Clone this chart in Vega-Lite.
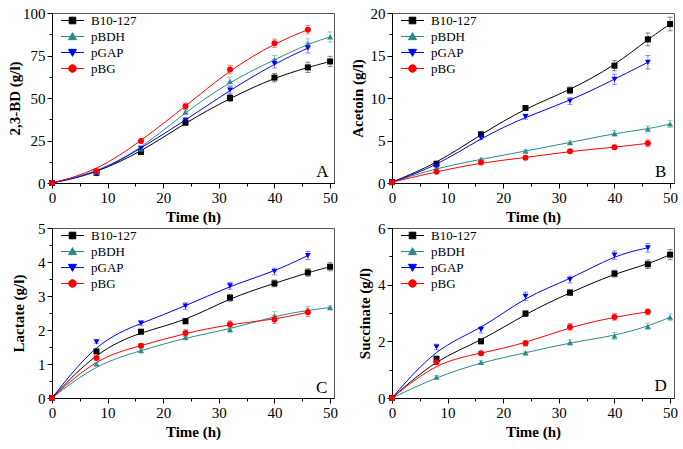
{
  "$schema": "https://vega.github.io/schema/vega-lite/v6.json",
  "background": "white",
  "padding": {"left": 7, "top": 5, "right": 0, "bottom": 0},
  "config": {
    "font": "Liberation Serif",
    "view": {"stroke": "#555", "strokeWidth": 1},
    "axis": {"grid": false, "domainColor": "#000", "domainWidth": 1, "tickColor": "#000", "tickWidth": 1, "labelFont": "Liberation Serif", "labelFontSize": 15, "labelColor": "#000", "labelPadding": 2, "titleFont": "Liberation Serif", "titleFontSize": 15, "titleColor": "#000", "labelFlush": false, "labelOverlap": false, "format": "d"},
    "legend": {"orient": "none", "legendX": 13, "legendY": 0, "title": null, "symbolSize": 196, "symbolStrokeWidth": 1, "symbolFillColor": "#000", "symbolStrokeColor": "#000", "labelFontSize": 13, "labelFont": "Liberation Serif", "labelColor": "#000", "labelOffset": 11, "rowPadding": 1, "padding": 0},
    "text": {"font": "Liberation Serif"}
  },
  "datasets": {
    "bd": [
      {"t": 0, "v": 0, "e": 0, "s": "B10-127"}, {"t": 8, "v": 6.0, "e": 0.5, "s": "B10-127"}, {"t": 16, "v": 18.2, "e": 1.0, "s": "B10-127"}, {"t": 24, "v": 35.5, "e": 1.5, "s": "B10-127"}, {"t": 32, "v": 50.0, "e": 2.0, "s": "B10-127"}, {"t": 40, "v": 62.0, "e": 2.5, "s": "B10-127"}, {"t": 46, "v": 68.0, "e": 3.0, "s": "B10-127"}, {"t": 50, "v": 71.5, "e": 3.0, "s": "B10-127"},
      {"t": 0, "v": 0, "e": 0, "s": "pBDH"}, {"t": 8, "v": 6.2, "e": 0.5, "s": "pBDH"}, {"t": 16, "v": 20.0, "e": 1.0, "s": "pBDH"}, {"t": 24, "v": 41.8, "e": 1.5, "s": "pBDH"}, {"t": 32, "v": 59.8, "e": 2.5, "s": "pBDH"}, {"t": 40, "v": 72.5, "e": 2.5, "s": "pBDH"}, {"t": 46, "v": 81.8, "e": 3.0, "s": "pBDH"}, {"t": 50, "v": 85.9, "e": 3.0, "s": "pBDH"},
      {"t": 0, "v": 0, "e": 0, "s": "pGAP"}, {"t": 8, "v": 5.3, "e": 0.5, "s": "pGAP"}, {"t": 16, "v": 20.4, "e": 1.0, "s": "pGAP"}, {"t": 24, "v": 36.9, "e": 1.5, "s": "pGAP"}, {"t": 32, "v": 54.7, "e": 2.0, "s": "pGAP"}, {"t": 40, "v": 70.2, "e": 2.5, "s": "pGAP"}, {"t": 46, "v": 79.4, "e": 3.0, "s": "pGAP"},
      {"t": 0, "v": 0, "e": 0, "s": "pBG"}, {"t": 8, "v": 7.0, "e": 0.5, "s": "pBG"}, {"t": 16, "v": 24.7, "e": 1.0, "s": "pBG"}, {"t": 24, "v": 45.1, "e": 2.0, "s": "pBG"}, {"t": 32, "v": 66.7, "e": 2.5, "s": "pBG"}, {"t": 40, "v": 82.2, "e": 2.5, "s": "pBG"}, {"t": 46, "v": 90.2, "e": 2.5, "s": "pBG"}
    ],
    "ac": [
      {"t": 0, "v": 0.1, "e": 0, "s": "B10-127"}, {"t": 8, "v": 2.27, "e": 0.15, "s": "B10-127"}, {"t": 16, "v": 5.73, "e": 0.25, "s": "B10-127"}, {"t": 24, "v": 8.82, "e": 0.3, "s": "B10-127"}, {"t": 32, "v": 10.9, "e": 0.4, "s": "B10-127"}, {"t": 40, "v": 13.8, "e": 0.6, "s": "B10-127"}, {"t": 46, "v": 16.9, "e": 0.75, "s": "B10-127"}, {"t": 50, "v": 18.7, "e": 0.8, "s": "B10-127"},
      {"t": 0, "v": 0.1, "e": 0, "s": "pBDH"}, {"t": 8, "v": 1.76, "e": 0.1, "s": "pBDH"}, {"t": 16, "v": 2.78, "e": 0.15, "s": "pBDH"}, {"t": 24, "v": 3.76, "e": 0.15, "s": "pBDH"}, {"t": 32, "v": 4.75, "e": 0.2, "s": "pBDH"}, {"t": 40, "v": 5.84, "e": 0.35, "s": "pBDH"}, {"t": 46, "v": 6.35, "e": 0.35, "s": "pBDH"}, {"t": 50, "v": 6.94, "e": 0.4, "s": "pBDH"},
      {"t": 0, "v": 0.1, "e": 0, "s": "pGAP"}, {"t": 8, "v": 2.0, "e": 0.15, "s": "pGAP"}, {"t": 16, "v": 5.3, "e": 0.2, "s": "pGAP"}, {"t": 24, "v": 7.8, "e": 0.3, "s": "pGAP"}, {"t": 32, "v": 9.65, "e": 0.4, "s": "pGAP"}, {"t": 40, "v": 12.2, "e": 0.6, "s": "pGAP"}, {"t": 46, "v": 14.2, "e": 0.8, "s": "pGAP"},
      {"t": 0, "v": 0.1, "e": 0, "s": "pBG"}, {"t": 8, "v": 1.33, "e": 0.1, "s": "pBG"}, {"t": 16, "v": 2.4, "e": 0.15, "s": "pBG"}, {"t": 24, "v": 2.98, "e": 0.15, "s": "pBG"}, {"t": 32, "v": 3.73, "e": 0.2, "s": "pBG"}, {"t": 40, "v": 4.2, "e": 0.25, "s": "pBG"}, {"t": 46, "v": 4.67, "e": 0.4, "s": "pBG"}
    ],
    "la": [
      {"t": 0, "v": 0, "e": 0, "s": "B10-127"}, {"t": 8, "v": 1.37, "e": 0.06, "s": "B10-127"}, {"t": 16, "v": 1.95, "e": 0.06, "s": "B10-127"}, {"t": 24, "v": 2.26, "e": 0.08, "s": "B10-127"}, {"t": 32, "v": 2.95, "e": 0.1, "s": "B10-127"}, {"t": 40, "v": 3.37, "e": 0.1, "s": "B10-127"}, {"t": 46, "v": 3.69, "e": 0.11, "s": "B10-127"}, {"t": 50, "v": 3.86, "e": 0.12, "s": "B10-127"},
      {"t": 0, "v": 0, "e": 0, "s": "pBDH"}, {"t": 8, "v": 1.0, "e": 0.05, "s": "pBDH"}, {"t": 16, "v": 1.39, "e": 0.05, "s": "pBDH"}, {"t": 24, "v": 1.78, "e": 0.07, "s": "pBDH"}, {"t": 32, "v": 2.02, "e": 0.1, "s": "pBDH"}, {"t": 40, "v": 2.41, "e": 0.13, "s": "pBDH"}, {"t": 46, "v": 2.58, "e": 0.12, "s": "pBDH"}, {"t": 50, "v": 2.66, "e": 0.05, "s": "pBDH"},
      {"t": 0, "v": 0, "e": 0, "s": "pGAP"}, {"t": 8, "v": 1.65, "e": 0.05, "s": "pGAP"}, {"t": 16, "v": 2.2, "e": 0.06, "s": "pGAP"}, {"t": 24, "v": 2.7, "e": 0.1, "s": "pGAP"}, {"t": 32, "v": 3.3, "e": 0.1, "s": "pGAP"}, {"t": 40, "v": 3.72, "e": 0.1, "s": "pGAP"}, {"t": 46, "v": 4.19, "e": 0.12, "s": "pGAP"},
      {"t": 0, "v": 0, "e": 0, "s": "pBG"}, {"t": 8, "v": 1.18, "e": 0.06, "s": "pBG"}, {"t": 16, "v": 1.54, "e": 0.06, "s": "pBG"}, {"t": 24, "v": 1.91, "e": 0.1, "s": "pBG"}, {"t": 32, "v": 2.17, "e": 0.1, "s": "pBG"}, {"t": 40, "v": 2.31, "e": 0.12, "s": "pBG"}, {"t": 46, "v": 2.52, "e": 0.12, "s": "pBG"}
    ],
    "su": [
      {"t": 0, "v": 0, "e": 0, "s": "B10-127"}, {"t": 8, "v": 1.38, "e": 0.1, "s": "B10-127"}, {"t": 16, "v": 2.0, "e": 0.08, "s": "B10-127"}, {"t": 24, "v": 2.98, "e": 0.1, "s": "B10-127"}, {"t": 32, "v": 3.72, "e": 0.1, "s": "B10-127"}, {"t": 40, "v": 4.39, "e": 0.12, "s": "B10-127"}, {"t": 46, "v": 4.72, "e": 0.15, "s": "B10-127"}, {"t": 50, "v": 5.06, "e": 0.18, "s": "B10-127"},
      {"t": 0, "v": 0, "e": 0, "s": "pBDH"}, {"t": 8, "v": 0.74, "e": 0.05, "s": "pBDH"}, {"t": 16, "v": 1.26, "e": 0.06, "s": "pBDH"}, {"t": 24, "v": 1.59, "e": 0.06, "s": "pBDH"}, {"t": 32, "v": 1.96, "e": 0.1, "s": "pBDH"}, {"t": 40, "v": 2.19, "e": 0.12, "s": "pBDH"}, {"t": 46, "v": 2.53, "e": 0.12, "s": "pBDH"}, {"t": 50, "v": 2.85, "e": 0.12, "s": "pBDH"},
      {"t": 0, "v": 0, "e": 0, "s": "pGAP"}, {"t": 8, "v": 1.8, "e": 0.1, "s": "pGAP"}, {"t": 16, "v": 2.41, "e": 0.12, "s": "pGAP"}, {"t": 24, "v": 3.59, "e": 0.15, "s": "pGAP"}, {"t": 32, "v": 4.18, "e": 0.12, "s": "pGAP"}, {"t": 40, "v": 5.04, "e": 0.15, "s": "pGAP"}, {"t": 46, "v": 5.3, "e": 0.15, "s": "pGAP"},
      {"t": 0, "v": 0, "e": 0, "s": "pBG"}, {"t": 8, "v": 1.26, "e": 0.08, "s": "pBG"}, {"t": 16, "v": 1.58, "e": 0.06, "s": "pBG"}, {"t": 24, "v": 1.93, "e": 0.1, "s": "pBG"}, {"t": 32, "v": 2.51, "e": 0.12, "s": "pBG"}, {"t": 40, "v": 2.86, "e": 0.12, "s": "pBG"}, {"t": 46, "v": 3.04, "e": 0.1, "s": "pBG"}
    ]
  },
  "columns": 2,
  "spacing": {"row": -5, "column": 10},
  "resolve": {
    "scale": {"x": "independent", "y": "independent", "color": "independent", "fill": "independent", "stroke": "independent", "shape": "independent"},
    "axis": {"x": "independent", "y": "independent"},
    "legend": {"color": "independent", "fill": "independent", "stroke": "independent", "shape": "independent"}
  },
  "concat": [
    {
      "width": 282, "height": 170,
      "data": {"name": "bd"},
      "encoding": {
        "x": {"field": "t", "type": "quantitative", "scale": {"domain": [0, 50.7], "nice": false}, "axis": {"title": "Time (h)", "titlePadding": 4, "values": [0, 5, 10, 15, 20, 25, 30, 35, 40, 45, 50], "labelExpr": "datum.value % 10 === 0 ? datum.label : ''", "tickSize": {"condition": {"test": "datum.value % 10 === 0", "value": 5}, "value": 3}}},
        "y": {"field": "v", "type": "quantitative", "scale": {"domain": [0, 100], "nice": false}, "axis": {"title": "2,3-BD (g/l)", "titlePadding": 0, "values": [0, 12.5, 25, 37.5, 50, 62.5, 75, 87.5, 100], "labelExpr": "datum.value % 25 === 0 ? datum.label : ''", "tickSize": {"condition": {"test": "datum.value % 25 === 0", "value": 5}, "value": 3}}}
      },
      "layer": [
        {"mark": {"type": "line", "interpolate": "basis", "strokeWidth": 1}, "encoding": {"color": {"field": "s", "type": "nominal", "scale": {"domain": ["B10-127", "pBDH", "pGAP", "pBG"], "range": ["#000000", "#2b8b8b", "#0000ff", "#ff0000"]}, "legend": null}}},
        {"mark": {"type": "errorbar", "ticks": true, "opacity": 0.45}, "encoding": {"yError": {"field": "e"}, "color": {"field": "s", "type": "nominal", "scale": {"domain": ["B10-127", "pBDH", "pGAP", "pBG"], "range": ["#000000", "#2b8b8b", "#0000ff", "#ff0000"]}, "legend": null}}},
        {"mark": {"type": "point", "filled": true, "size": 36, "opacity": 1}, "encoding": {"color": {"field": "s", "type": "nominal", "scale": {"domain": ["B10-127", "pBDH", "pGAP", "pBG"], "range": ["#000000", "#2b8b8b", "#0000ff", "#ff0000"]}, "legend": null}, "shape": {"field": "s", "type": "nominal", "scale": {"domain": ["B10-127", "pBDH", "pGAP", "pBG"], "range": ["square", "triangle-up", "triangle-down", "circle"]}, "legend": null}}},
        {"mark": {"type": "point", "filled": true, "opacity": 0}, "encoding": {
          "fill": {"field": "s", "type": "nominal", "scale": {"domain": ["B10-127", "pBDH", "pGAP", "pBG"], "range": ["#000000", "#2b8b8b", "#0000ff", "#ff0000"]}, "legend": {}},
          "stroke": {"field": "s", "type": "nominal", "scale": {"domain": ["B10-127", "pBDH", "pGAP", "pBG"], "range": ["#000000", "#2b8b8b", "#0000ff", "#ff0000"]}, "legend": {}},
          "shape": {"field": "s", "type": "nominal", "scale": {"domain": ["B10-127", "pBDH", "pGAP", "pBG"], "range": ["M-1.64,0H1.64M-0.47,-0.47H0.47V0.47H-0.47Z", "M-1.64,0H1.64M0,-0.55L0.57,0.45L-0.57,0.45Z", "M-1.64,0H1.64M0,0.55L0.57,-0.45L-0.57,-0.45Z", "M-1.64,0H1.64M-0.54,0A0.54,0.54 0 1 1 0.54,0A0.54,0.54 0 1 1 -0.54,0Z"]}, "legend": {}}
        }},
        {"data": {"values": [{"lx": 48.6, "ly": 6.6, "lab": "A"}]}, "mark": {"type": "text", "fontSize": 17, "color": "#000", "align": "center", "baseline": "middle"}, "encoding": {"x": {"field": "lx", "type": "quantitative"}, "y": {"field": "ly", "type": "quantitative"}, "text": {"field": "lab"}}}
      ],
      "resolve": {"scale": {"color": "independent", "fill": "independent", "stroke": "independent", "shape": "independent"}}
    },
    {
      "width": 282, "height": 170,
      "data": {"name": "ac"},
      "encoding": {
        "x": {"field": "t", "type": "quantitative", "scale": {"domain": [0, 50.7], "nice": false}, "axis": {"title": "Time (h)", "titlePadding": 4, "values": [0, 5, 10, 15, 20, 25, 30, 35, 40, 45, 50], "labelExpr": "datum.value % 10 === 0 ? datum.label : ''", "tickSize": {"condition": {"test": "datum.value % 10 === 0", "value": 5}, "value": 3}}},
        "y": {"field": "v", "type": "quantitative", "scale": {"domain": [0, 20], "nice": false}, "axis": {"title": "Acetoin (g/l)", "titlePadding": 5, "values": [0, 2.5, 5, 7.5, 10, 12.5, 15, 17.5, 20], "labelExpr": "datum.value % 5 === 0 ? datum.label : ''", "tickSize": {"condition": {"test": "datum.value % 5 === 0", "value": 5}, "value": 3}}}
      },
      "layer": [
        {"mark": {"type": "line", "interpolate": "basis", "strokeWidth": 1}, "encoding": {"color": {"field": "s", "type": "nominal", "scale": {"domain": ["B10-127", "pBDH", "pGAP", "pBG"], "range": ["#000000", "#2b8b8b", "#0000ff", "#ff0000"]}, "legend": null}}},
        {"mark": {"type": "errorbar", "ticks": true, "opacity": 0.45}, "encoding": {"yError": {"field": "e"}, "color": {"field": "s", "type": "nominal", "scale": {"domain": ["B10-127", "pBDH", "pGAP", "pBG"], "range": ["#000000", "#2b8b8b", "#0000ff", "#ff0000"]}, "legend": null}}},
        {"mark": {"type": "point", "filled": true, "size": 36, "opacity": 1}, "encoding": {"color": {"field": "s", "type": "nominal", "scale": {"domain": ["B10-127", "pBDH", "pGAP", "pBG"], "range": ["#000000", "#2b8b8b", "#0000ff", "#ff0000"]}, "legend": null}, "shape": {"field": "s", "type": "nominal", "scale": {"domain": ["B10-127", "pBDH", "pGAP", "pBG"], "range": ["square", "triangle-up", "triangle-down", "circle"]}, "legend": null}}},
        {"mark": {"type": "point", "filled": true, "opacity": 0}, "encoding": {
          "fill": {"field": "s", "type": "nominal", "scale": {"domain": ["B10-127", "pBDH", "pGAP", "pBG"], "range": ["#000000", "#2b8b8b", "#0000ff", "#ff0000"]}, "legend": {}},
          "stroke": {"field": "s", "type": "nominal", "scale": {"domain": ["B10-127", "pBDH", "pGAP", "pBG"], "range": ["#000000", "#2b8b8b", "#0000ff", "#ff0000"]}, "legend": {}},
          "shape": {"field": "s", "type": "nominal", "scale": {"domain": ["B10-127", "pBDH", "pGAP", "pBG"], "range": ["M-1.64,0H1.64M-0.47,-0.47H0.47V0.47H-0.47Z", "M-1.64,0H1.64M0,-0.55L0.57,0.45L-0.57,0.45Z", "M-1.64,0H1.64M0,0.55L0.57,-0.45L-0.57,-0.45Z", "M-1.64,0H1.64M-0.54,0A0.54,0.54 0 1 1 0.54,0A0.54,0.54 0 1 1 -0.54,0Z"]}, "legend": {}}
        }},
        {"data": {"values": [{"lx": 48.3, "ly": 1.33, "lab": "B"}]}, "mark": {"type": "text", "fontSize": 17, "color": "#000", "align": "center", "baseline": "middle"}, "encoding": {"x": {"field": "lx", "type": "quantitative"}, "y": {"field": "ly", "type": "quantitative"}, "text": {"field": "lab"}}}
      ],
      "resolve": {"scale": {"color": "independent", "fill": "independent", "stroke": "independent", "shape": "independent"}}
    },
    {
      "width": 282, "height": 170,
      "data": {"name": "la"},
      "encoding": {
        "x": {"field": "t", "type": "quantitative", "scale": {"domain": [0, 50.7], "nice": false}, "axis": {"title": "Time (h)", "titlePadding": 4, "values": [0, 5, 10, 15, 20, 25, 30, 35, 40, 45, 50], "labelExpr": "datum.value % 10 === 0 ? datum.label : ''", "tickSize": {"condition": {"test": "datum.value % 10 === 0", "value": 5}, "value": 3}}},
        "y": {"field": "v", "type": "quantitative", "scale": {"domain": [0, 5], "nice": false}, "axis": {"title": "Lactate (g/l)", "titlePadding": 11, "values": [0, 0.5, 1, 1.5, 2, 2.5, 3, 3.5, 4, 4.5, 5], "labelExpr": "datum.value % 1 === 0 ? datum.label : ''", "tickSize": {"condition": {"test": "datum.value % 1 === 0", "value": 5}, "value": 3}}}
      },
      "layer": [
        {"mark": {"type": "line", "interpolate": "basis", "strokeWidth": 1}, "encoding": {"color": {"field": "s", "type": "nominal", "scale": {"domain": ["B10-127", "pBDH", "pGAP", "pBG"], "range": ["#000000", "#2b8b8b", "#0000ff", "#ff0000"]}, "legend": null}}},
        {"mark": {"type": "errorbar", "ticks": true, "opacity": 0.45}, "encoding": {"yError": {"field": "e"}, "color": {"field": "s", "type": "nominal", "scale": {"domain": ["B10-127", "pBDH", "pGAP", "pBG"], "range": ["#000000", "#2b8b8b", "#0000ff", "#ff0000"]}, "legend": null}}},
        {"mark": {"type": "point", "filled": true, "size": 36, "opacity": 1}, "encoding": {"color": {"field": "s", "type": "nominal", "scale": {"domain": ["B10-127", "pBDH", "pGAP", "pBG"], "range": ["#000000", "#2b8b8b", "#0000ff", "#ff0000"]}, "legend": null}, "shape": {"field": "s", "type": "nominal", "scale": {"domain": ["B10-127", "pBDH", "pGAP", "pBG"], "range": ["square", "triangle-up", "triangle-down", "circle"]}, "legend": null}}},
        {"mark": {"type": "point", "filled": true, "opacity": 0}, "encoding": {
          "fill": {"field": "s", "type": "nominal", "scale": {"domain": ["B10-127", "pBDH", "pGAP", "pBG"], "range": ["#000000", "#2b8b8b", "#0000ff", "#ff0000"]}, "legend": {}},
          "stroke": {"field": "s", "type": "nominal", "scale": {"domain": ["B10-127", "pBDH", "pGAP", "pBG"], "range": ["#000000", "#2b8b8b", "#0000ff", "#ff0000"]}, "legend": {}},
          "shape": {"field": "s", "type": "nominal", "scale": {"domain": ["B10-127", "pBDH", "pGAP", "pBG"], "range": ["M-1.64,0H1.64M-0.47,-0.47H0.47V0.47H-0.47Z", "M-1.64,0H1.64M0,-0.55L0.57,0.45L-0.57,0.45Z", "M-1.64,0H1.64M0,0.55L0.57,-0.45L-0.57,-0.45Z", "M-1.64,0H1.64M-0.54,0A0.54,0.54 0 1 1 0.54,0A0.54,0.54 0 1 1 -0.54,0Z"]}, "legend": {}}
        }},
        {"data": {"values": [{"lx": 48.5, "ly": 0.3, "lab": "C"}]}, "mark": {"type": "text", "fontSize": 17, "color": "#000", "align": "center", "baseline": "middle"}, "encoding": {"x": {"field": "lx", "type": "quantitative"}, "y": {"field": "ly", "type": "quantitative"}, "text": {"field": "lab"}}}
      ],
      "resolve": {"scale": {"color": "independent", "fill": "independent", "stroke": "independent", "shape": "independent"}}
    },
    {
      "width": 282, "height": 170,
      "data": {"name": "su"},
      "encoding": {
        "x": {"field": "t", "type": "quantitative", "scale": {"domain": [0, 50.7], "nice": false}, "axis": {"title": "Time (h)", "titlePadding": 4, "values": [0, 5, 10, 15, 20, 25, 30, 35, 40, 45, 50], "labelExpr": "datum.value % 10 === 0 ? datum.label : ''", "tickSize": {"condition": {"test": "datum.value % 10 === 0", "value": 5}, "value": 3}}},
        "y": {"field": "v", "type": "quantitative", "scale": {"domain": [0, 6], "nice": false}, "axis": {"title": "Succinate (g/l)", "titlePadding": 5, "values": [0, 1, 2, 3, 4, 5, 6], "labelExpr": "datum.value % 2 === 0 ? datum.label : ''", "tickSize": {"condition": {"test": "datum.value % 2 === 0", "value": 5}, "value": 3}}}
      },
      "layer": [
        {"mark": {"type": "line", "interpolate": "basis", "strokeWidth": 1}, "encoding": {"color": {"field": "s", "type": "nominal", "scale": {"domain": ["B10-127", "pBDH", "pGAP", "pBG"], "range": ["#000000", "#2b8b8b", "#0000ff", "#ff0000"]}, "legend": null}}},
        {"mark": {"type": "errorbar", "ticks": true, "opacity": 0.45}, "encoding": {"yError": {"field": "e"}, "color": {"field": "s", "type": "nominal", "scale": {"domain": ["B10-127", "pBDH", "pGAP", "pBG"], "range": ["#000000", "#2b8b8b", "#0000ff", "#ff0000"]}, "legend": null}}},
        {"mark": {"type": "point", "filled": true, "size": 36, "opacity": 1}, "encoding": {"color": {"field": "s", "type": "nominal", "scale": {"domain": ["B10-127", "pBDH", "pGAP", "pBG"], "range": ["#000000", "#2b8b8b", "#0000ff", "#ff0000"]}, "legend": null}, "shape": {"field": "s", "type": "nominal", "scale": {"domain": ["B10-127", "pBDH", "pGAP", "pBG"], "range": ["square", "triangle-up", "triangle-down", "circle"]}, "legend": null}}},
        {"mark": {"type": "point", "filled": true, "opacity": 0}, "encoding": {
          "fill": {"field": "s", "type": "nominal", "scale": {"domain": ["B10-127", "pBDH", "pGAP", "pBG"], "range": ["#000000", "#2b8b8b", "#0000ff", "#ff0000"]}, "legend": {}},
          "stroke": {"field": "s", "type": "nominal", "scale": {"domain": ["B10-127", "pBDH", "pGAP", "pBG"], "range": ["#000000", "#2b8b8b", "#0000ff", "#ff0000"]}, "legend": {}},
          "shape": {"field": "s", "type": "nominal", "scale": {"domain": ["B10-127", "pBDH", "pGAP", "pBG"], "range": ["M-1.64,0H1.64M-0.47,-0.47H0.47V0.47H-0.47Z", "M-1.64,0H1.64M0,-0.55L0.57,0.45L-0.57,0.45Z", "M-1.64,0H1.64M0,0.55L0.57,-0.45L-0.57,-0.45Z", "M-1.64,0H1.64M-0.54,0A0.54,0.54 0 1 1 0.54,0A0.54,0.54 0 1 1 -0.54,0Z"]}, "legend": {}}
        }},
        {"data": {"values": [{"lx": 48.3, "ly": 0.42, "lab": "D"}]}, "mark": {"type": "text", "fontSize": 17, "color": "#000", "align": "center", "baseline": "middle"}, "encoding": {"x": {"field": "lx", "type": "quantitative"}, "y": {"field": "ly", "type": "quantitative"}, "text": {"field": "lab"}}}
      ],
      "resolve": {"scale": {"color": "independent", "fill": "independent", "stroke": "independent", "shape": "independent"}}
    }
  ]
}
